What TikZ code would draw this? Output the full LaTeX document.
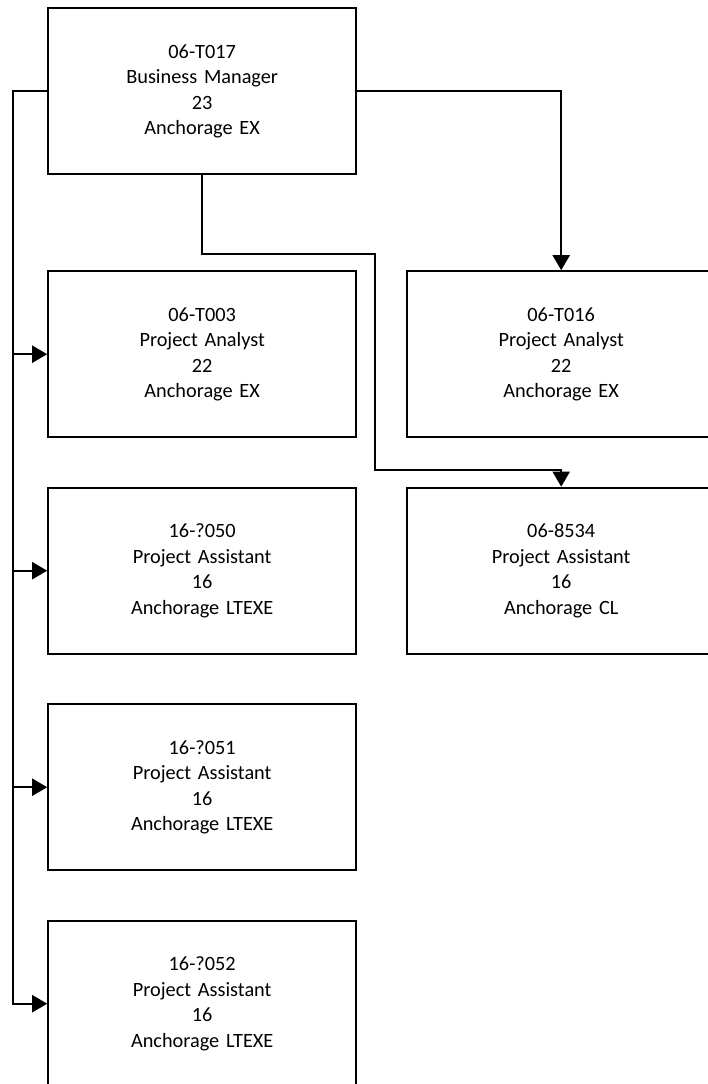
\documentclass[tikz,border=0pt]{standalone}
\usepackage{fontspec}
\setmainfont{Carlito}
\usetikzlibrary{positioning,arrows.meta}

\begin{document}
\begin{tikzpicture}[x=1pt,y=-1pt,
    box/.style={draw,rectangle,line width=2pt,minimum width=308pt,minimum height=166pt,text width=290pt,align=center,font=\fontsize{20.3}{25.5}\selectfont},
    link/.style={line width=2pt},
    arr/.style={link,-{Triangle[length=15pt,width=17pt]}}]
    \useasboundingbox (0,0) rectangle (708,1084);
    \clip (0,0) rectangle (708,1084);
            \matrix (org) [row sep=48.5pt,column sep=49pt,inner sep=0pt,anchor=north west] at (47,7) {
            \node (bm) [box] {06-T017 \\ Business Manager \\ 23 \\ Anchorage EX};
            &
            \\[46.5pt]
            \node (pa3) [box] {06-T003 \\ Project Analyst \\ 22 \\ Anchorage EX};
            &
            \node (pa16) [box] {06-T016 \\ Project Analyst \\ 22 \\ Anchorage EX};
            \\
            \node (ps50) [box] {16-?050 \\ Project Assistant \\ 16 \\ Anchorage LTEXE};
            &
            \node (ps34) [box] {06-8534 \\ Project Assistant \\ 16 \\ Anchorage CL};
            \\
            \node (ps51) [box] {16-?051 \\ Project Assistant \\ 16 \\ Anchorage LTEXE};
            &
            \\
            \node (ps52) [box] {16-?052 \\ Project Assistant \\ 16 \\ Anchorage LTEXE};
            &
            \\
            };

            \coordinate (trunk) at ([xshift=-34pt]bm.west);
            \draw[arr] (bm.west) -- (trunk) |- (ps52.west);
            \foreach \n in {pa3,ps50,ps51}
                \draw[arr] (trunk |- \n.west) -- (\n.west);
            \draw[arr] (bm.east) -| (pa16.north);
            \draw[arr] (bm.south) -- ++(0,79) -| ([xshift=-186pt,yshift=17pt]ps34.north) -| (ps34.north);
        \end{tikzpicture}
\end{document}
